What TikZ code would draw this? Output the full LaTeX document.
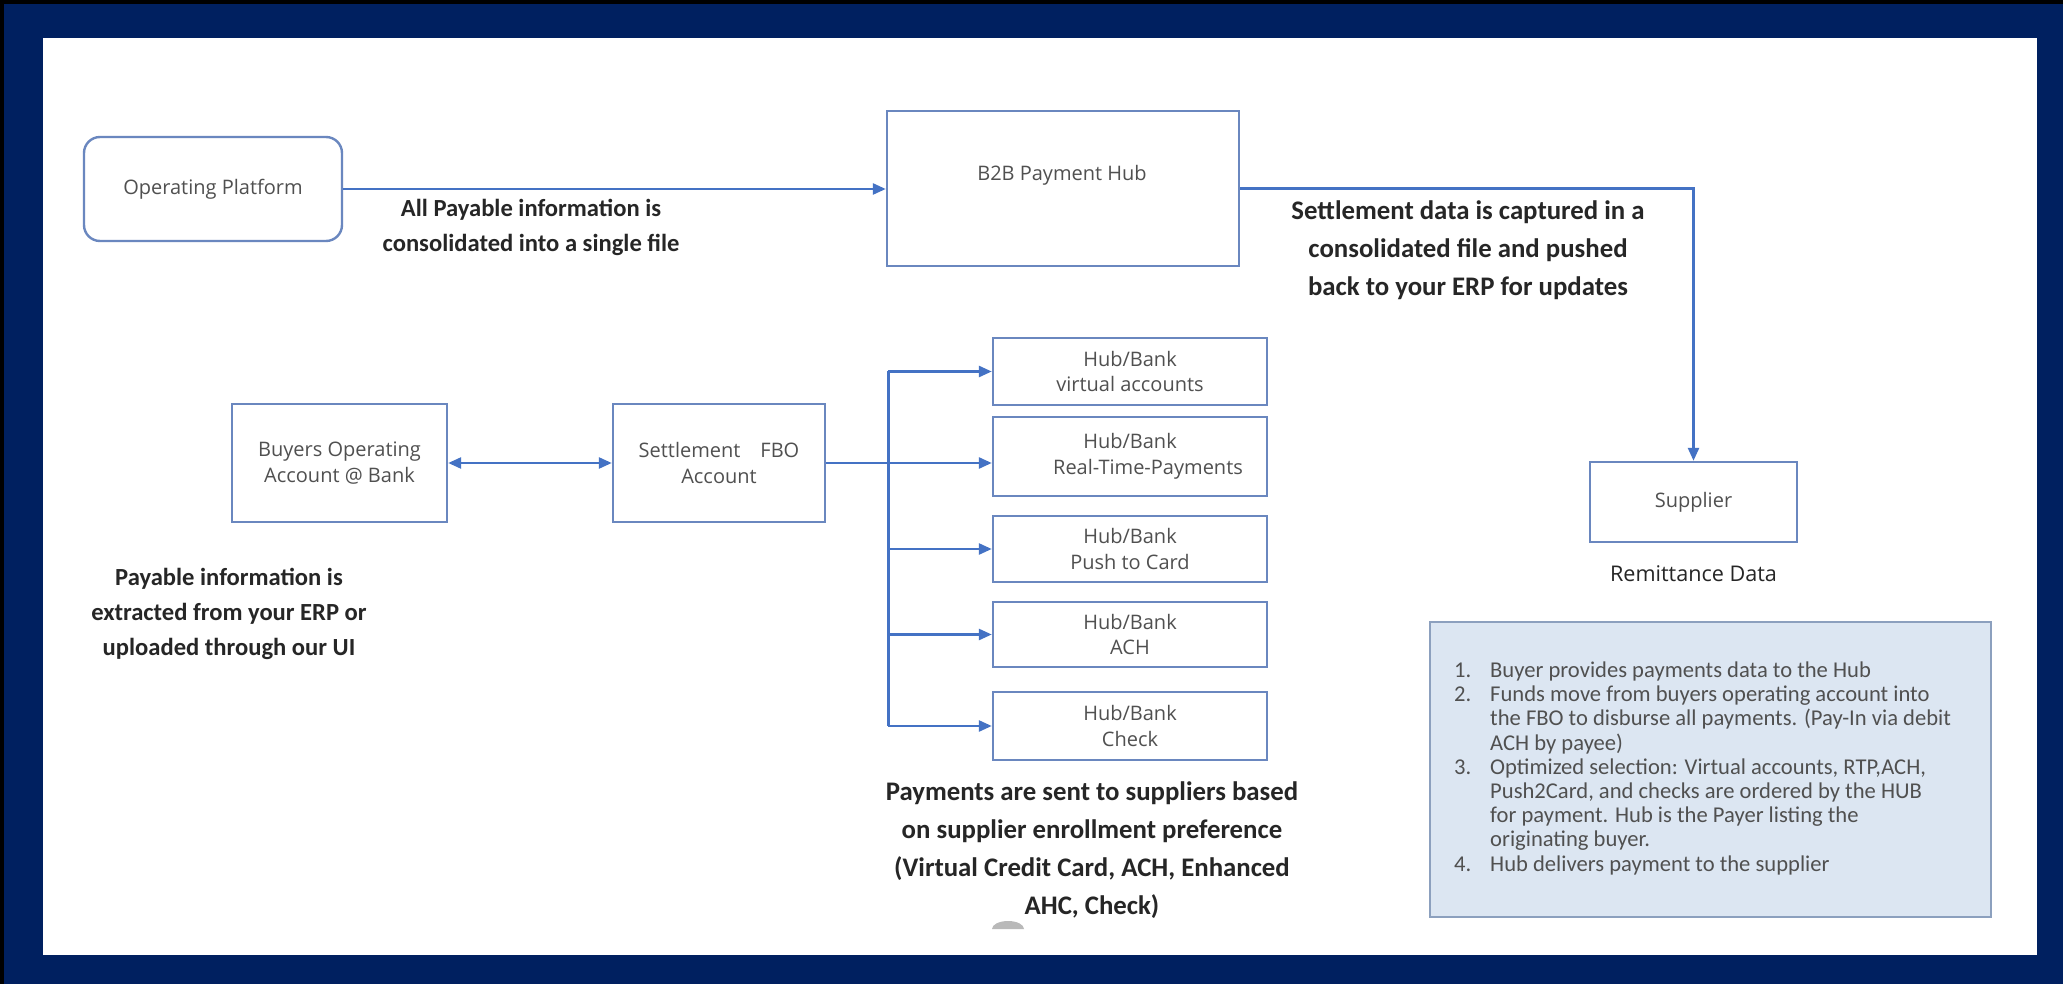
\documentclass[tikz,border=0pt]{standalone}
\usepackage{fontspec}
\setmainfont{Open Sans}
\newfontfamily\carlito{Carlito}
\usetikzlibrary{calc, arrows.meta, positioning}
\definecolor{hubnavy}{HTML}{002060}
\definecolor{hubblue}{HTML}{4472C4}
\definecolor{hubline}{HTML}{6A87BF}
\definecolor{hubgray}{HTML}{505050}
\definecolor{hubdark}{HTML}{262626}
\definecolor{notefill}{HTML}{DCE6F2}
\definecolor{noteline}{HTML}{8CA0BE}

\tikzset{
    box/.style={draw=hubline, line width=1.2pt, fill=white, text=hubgray, align=center,
        inner sep=0pt, font=\fontsize{10}{12.75}\selectfont},
    conn/.style={hubblue, line width=1.3pt, -{Triangle[length=6.5pt,width=5.5pt]}},
    twoway/.style={conn, {Triangle[length=6.5pt,width=5.5pt]}-{Triangle[length=6.5pt,width=5.5pt]}},
    remark/.style={text=hubdark, align=center, inner sep=0pt, font=\carlito\bfseries\fontsize{12.3}{17.5}\selectfont},
    bigremark/.style={remark, font=\carlito\bfseries\fontsize{13.4}{19}\selectfont},
}

\begin{document}
\begin{tikzpicture}[x=0.5pt, y=-0.5pt]
            \useasboundingbox (0,0) rectangle (2063,984);
            % Frame
            \fill[hubnavy] (0,0) rectangle (2063,984);
            \fill[black] (0,0) rectangle (2063,4);
            \fill[black] (0,0) rectangle (4,984);
            \fill[white] (43,38) rectangle (2037,955);

            % Platform and hub
            \node[box, rounded corners=8pt, minimum width=129pt, minimum height=52pt] (platform) at (213,189) {Operating Platform};
            \node[box, minimum width=176pt, minimum height=77.5pt] (hub) at (1063,188.5) {};
            \node[text=hubgray, inner sep=0pt, font=\fontsize{10}{12}\selectfont] (hublabel) at (1062,175) {B2B Payment Hub};
            \node[remark] (filenote) at (531,227) {All Payable information is\\consolidated into a single file};

            % Supplier
            \node[box, minimum width=103.5pt, minimum height=40pt] (supplier) at (1693.5,502) {Supplier};
            \node[below=11pt of supplier, text=hubdark, inner sep=0pt, font=\fontsize{10.8}{13}\selectfont] (remit) {Remittance Data};
            \node[bigremark] (erpnote) at (1468,250) {Settlement data is captured in a\\consolidated file and pushed\\back to your ERP for updates};

            % Accounts
            \node[box, minimum width=107.5pt, minimum height=59pt] (buyers) at (339.5,463) {Buyers Operating\\Account @ Bank};
            \node[box, minimum width=106pt, minimum height=59pt] (fbo) at (719,463) {Settlement\quad FBO\\Account};
            \node[remark] (extractnote) at (229,614) {Payable information is\\extracted from your ERP or\\uploaded through our UI};

            % Payment rails
            \node[box, minimum width=137pt, minimum height=33.5pt] (hubva) at (1130,371.5) {Hub/Bank\\virtual accounts};
            \node[box, minimum width=137pt, minimum height=39.5pt] (hubrtp) at (1130,456.5) {Hub/Bank\\\hspace*{18pt}Real-Time-Payments};
            \node[box, minimum width=137pt, minimum height=33pt] (hubpush) at (1130,549) {Hub/Bank\\Push to Card};
            \node[box, minimum width=137pt, minimum height=32.5pt] (hubach) at (1130,634.5) {Hub/Bank\\ACH};
            \node[box, minimum width=137pt, minimum height=34pt] (hubchk) at (1130,726) {Hub/Bank\\Check};
            \node[bigremark] (paynote) at (1092,850) {Payments are sent to suppliers based\\on supplier enrollment preference\\(Virtual Credit Card, ACH, Enhanced\\AHC, Check)};
            \fill[gray!55] (992,929) arc[start angle=180, end angle=0, x radius=8pt, y radius=4pt] -- cycle;

            % Steps
            \node[draw=noteline, fill=notefill, line width=1.2pt, minimum width=280.5pt, minimum height=147.5pt] (steps) at (1710.5,769.5) {};
            \node[anchor=west, inner sep=0pt, text=hubgray, font=\carlito\fontsize{11.3}{12.1}\selectfont] (stepstext) at ([xshift=12.5pt]steps.west) {%
                \begin{tabular}{@{}p{18pt}@{}l@{}}
                1. & Buyer provides payments data to the Hub\\
                2. & Funds move from buyers operating account into\\
                   & the FBO to disburse all payments. (Pay-In via debit\\
                   & ACH by payee)\\
                3. & Optimized selection: Virtual accounts, RTP,ACH,\\
                   & Push2Card, and checks are ordered by the HUB\\
                   & for payment. Hub is the Payer listing the\\
                   & originating buyer.\\
                4. & Hub delivers payment to the supplier
                \end{tabular}};

            % Connectors
            \coordinate (bus) at ($(fbo.east)+(31pt,0)$);
            \draw[conn] (platform.east) -- (platform.east -| hub.west);
            \draw[conn] (hub.east) -| (supplier.north);
            \draw[twoway] (buyers.east) -- (fbo.west);
            \draw[hubblue, line width=1.3pt] (bus |- hubva.west) -- (bus |- hubchk.west);
            \draw[conn] (fbo.east) -- (fbo.east -| hubrtp.west);
            \draw[conn] (bus |- hubva.west) -- (hubva.west);
            \draw[conn] (bus |- hubpush.west) -- (hubpush.west);
            \draw[conn] (bus |- hubach.west) -- (hubach.west);
            \draw[conn] (bus |- hubchk.west) -- (hubchk.west);
        \end{tikzpicture}
\end{document}
